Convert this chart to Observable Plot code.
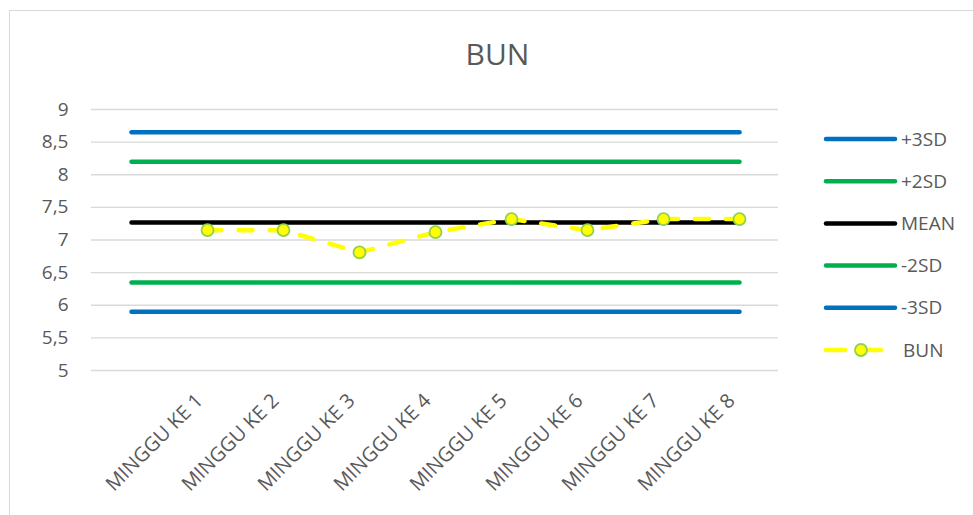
<!DOCTYPE html>
<html>
<head>
<meta charset="utf-8">
<script src="https://cdn.jsdelivr.net/npm/d3@7"></script>
<script src="https://cdn.jsdelivr.net/npm/@observablehq/plot@0.6"></script>
<style>
  html, body { margin: 0; padding: 0; background: #fff; }
  #wrap { position: relative; width: 973px; height: 515px; overflow: hidden; font-family: "Open Sans", sans-serif; }
  #frame { position: absolute; left: 9px; top: 10px; width: 1000px; height: 600px; border: 1.5px solid #d9d9d9; box-sizing: border-box; }
  #title { position: absolute; left: 0; width: 995px; top: 32px; text-align: center; font-size: 30px; color: #595959; line-height: 44px; }
  #chart { position: absolute; left: 0; top: 0; }
  #legend { position: absolute; left: 0; top: 0; }
</style>
</head>
<body>
<div id="wrap">
  <div id="frame"></div>
  <div id="chart"></div>
  <div id="title">BUN</div>
  <div id="legend"></div>
</div>
<script>
// ---- data ----
const categories = ["", "MINGGU KE 1", "MINGGU KE 2", "MINGGU KE 3", "MINGGU KE 4", "MINGGU KE 5", "MINGGU KE 6", "MINGGU KE 7", "MINGGU KE 8"];
const plus3SD  = [8.65, 8.65, 8.65, 8.65, 8.65, 8.65, 8.65, 8.65, 8.65];
const plus2SD  = [8.20, 8.20, 8.20, 8.20, 8.20, 8.20, 8.20, 8.20, 8.20];
const meanVals = [7.27, 7.27, 7.27, 7.27, 7.27, 7.27, 7.27, 7.27, 7.27];
const minus2SD = [6.35, 6.35, 6.35, 6.35, 6.35, 6.35, 6.35, 6.35, 6.35];
const minus3SD = [5.90, 5.90, 5.90, 5.90, 5.90, 5.90, 5.90, 5.90, 5.90];
const bunVals  = [null, 7.15, 7.15, 6.81, 7.12, 7.32, 7.15, 7.32, 7.32];
const yTicks   = [5, 5.5, 6, 6.5, 7, 7.5, 8, 8.5, 9];
const seriesNames = ["+3SD", "+2SD", "MEAN", "-2SD", "-3SD", "BUN"];
const seriesColors = ["#0070c0", "#00b050", "#000000", "#00b050", "#0070c0", "#ffff00"];

const refSeries = [plus3SD, plus2SD, meanVals, minus2SD, minus3SD];
const rows = (vals) => categories.map((c, i) => ({ c, v: vals[i] })).filter(d => d.v != null);
const fmt = d => String(d).replace(".", ",");

const refMarks = refSeries.map((vals, i) =>
  Plot.line(rows(vals), { x: "c", y: "v", stroke: seriesColors[i], strokeWidth: 4.5, strokeLinecap: "round" })
);

const chart = Plot.plot({
  width: 973,
  height: 515,
  marginLeft: 91,
  marginRight: 195,
  marginTop: 109,
  marginBottom: 145,
  style: { fontFamily: "Open Sans, sans-serif", background: "transparent", color: "#595959" },
  x: { type: "point", domain: categories, padding: 0.5, align: 0.5, label: null },
  y: { domain: [5, 9], label: null },
  marks: [
    Plot.gridY(yTicks, { stroke: "#d9d9d9", strokeOpacity: 1, strokeWidth: 1.3 }),
    Plot.axisY(yTicks, { tickSize: 0, tickPadding: 23, tickFormat: fmt, fontSize: 19, fill: "#595959", label: null }),
    Plot.axisX({ tickSize: 0, tickRotate: -45, tickPadding: 27, fontSize: 20, fill: "#595959", label: null, dx: -8 }),
    ...refMarks,
    Plot.line(rows(bunVals), { x: "c", y: "v", stroke: "#ffff00", strokeWidth: 4.5, strokeDasharray: "14,17", strokeLinecap: "round" }),
    Plot.dot(rows(bunVals), { x: "c", y: "v", r: 6, fill: "#ffff00", stroke: "#92d050", strokeWidth: 1.8 })
  ]
});
document.getElementById("chart").appendChild(chart);

// ---- legend ----
const lg = d3.select("#legend").append("svg").attr("width", 973).attr("height", 515);
const y0 = 139, dy = 42.2;
seriesNames.forEach((name, i) => {
  const g = lg.append("g").attr("transform", `translate(0,${y0 + i * dy})`);
  if (name === "BUN") {
    g.append("line").attr("x1", 826).attr("x2", 845).attr("y1", 0).attr("y2", 0)
      .attr("stroke", "#ffff00").attr("stroke-width", 4.5).attr("stroke-linecap", "round");
    g.append("line").attr("x1", 869).attr("x2", 881).attr("y1", 0).attr("y2", 0)
      .attr("stroke", "#ffff00").attr("stroke-width", 4.5).attr("stroke-linecap", "round");
    g.append("circle").attr("cx", 861).attr("cy", 0).attr("r", 6)
      .attr("fill", "#ffff00").attr("stroke", "#92d050").attr("stroke-width", 1.8);
  } else {
    g.append("line").attr("x1", 826).attr("x2", 895).attr("y1", 0).attr("y2", 0)
      .attr("stroke", seriesColors[i]).attr("stroke-width", 4.5).attr("stroke-linecap", "round");
  }
  g.append("text").attr("x", name === "BUN" ? 903 : 901).attr("y", 0).attr("dy", "0.35em")
    .attr("font-family", "Open Sans, sans-serif").attr("font-size", 19).attr("fill", "#595959")
    .text(name);
});
</script>
</body>
</html>
